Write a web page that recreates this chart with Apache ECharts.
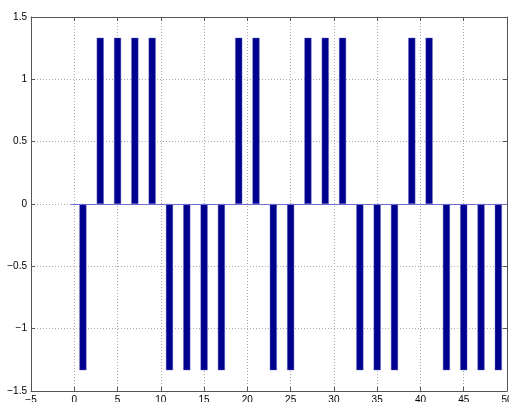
<!DOCTYPE html>
<html>
<head>
<meta charset="utf-8">
<script src="https://cdn.jsdelivr.net/npm/echarts@6/dist/echarts.min.js"></script>
<style>
html,body{margin:0;padding:0;background:#fff;overflow:hidden;width:509px;height:402px;}
#c{width:509px;height:402px;position:absolute;left:0;top:0;}
</style>
</head>
<body>
<div id="c"></div>
<script>
const xPositions = [1,3,5,7,9,11,13,15,17,19,21,23,25,27,29,31,33,35,37,39,41,43,45,47,49];
const values = [-1.333,1.333,1.333,1.333,1.333,-1.333,-1.333,-1.333,-1.333,1.333,1.333,-1.333,-1.333,1.333,1.333,1.333,-1.333,-1.333,-1.333,1.333,1.333,-1.333,-1.333,-1.333,-1.333];
const xTicks = [-5,0,5,10,15,20,25,30,35,40,45,50];
const yTicks = [-1.5,-1,-0.5,0,0.5,1,1.5];

const fmt = v => String(v).replace('-', '\u2212');
const axisColor = '#555';
const gridLine = {show:true, lineStyle:{color:'#aaa', type:[1,2], width:1}};
const chart = echarts.init(document.getElementById('c'), null, {renderer:'canvas', width:509, height:402});
chart.setOption({
  animation:false,
  backgroundColor:'#fff',
  grid:{left:31, top:17, right:2, bottom:11, containLabel:false, outerBoundsMode:'none'},
  xAxis:[{
    type:'value', min:xTicks[0], max:xTicks[xTicks.length-1], interval:5,
    axisLine:{show:true, onZero:false, lineStyle:{color:axisColor}},
    axisTick:{show:true, inside:true, length:4, lineStyle:{color:axisColor}},
    axisLabel:{color:'#000', fontSize:10, fontFamily:'Liberation Sans, Arial, sans-serif', margin:4, formatter:fmt, showMinLabel:true, showMaxLabel:true, hideOverlap:false},
    splitLine:gridLine
  },{
    type:'value', position:'top', min:xTicks[0], max:xTicks[xTicks.length-1], interval:5,
    axisLine:{show:true, onZero:false, lineStyle:{color:axisColor}},
    axisTick:{show:true, inside:true, length:4, lineStyle:{color:axisColor}},
    axisLabel:{show:false}, splitLine:{show:false}
  }],
  yAxis:[{
    type:'value', min:yTicks[0], max:yTicks[yTicks.length-1], interval:0.5,
    axisLine:{show:true, onZero:false, lineStyle:{color:axisColor}},
    axisTick:{show:true, inside:true, length:4, lineStyle:{color:axisColor}},
    axisLabel:{color:'#000', fontSize:10, fontFamily:'Liberation Sans, Arial, sans-serif', margin:4, formatter:fmt},
    splitLine:gridLine
  },{
    type:'value', position:'right', min:yTicks[0], max:yTicks[yTicks.length-1], interval:0.5,
    axisLine:{show:true, onZero:false, lineStyle:{color:axisColor}},
    axisTick:{show:true, inside:true, length:4, lineStyle:{color:axisColor}},
    axisLabel:{show:false}, splitLine:{show:false}
  }],
  series:[{
    type:'bar',
    data:xPositions.map((x,i)=>[x, values[i]]),
    barWidth:7,
    itemStyle:{color:'#00008f', borderColor:'#5a5ac0', borderWidth:0.4},
    markLine:{
      silent:true, symbol:'none', animation:false,
      lineStyle:{color:'#6b6bd0', type:'solid', width:1},
      label:{show:false},
      data:[[{coord:[-0.4,0]},{coord:[50,0]}]]
    },
    z:3
  }]
});
</script>
</body>
</html>
